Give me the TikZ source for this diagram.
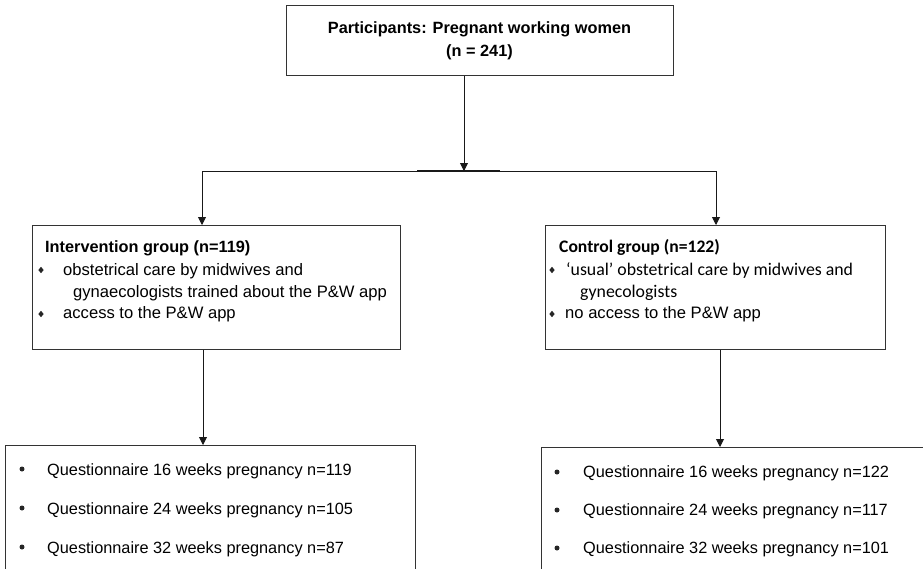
\documentclass[tikz,border=0pt]{standalone}
\usepackage{fontspec}
\setmainfont{Liberation Sans}
\newfontfamily\calfont{Carlito}
\usetikzlibrary{arrows.meta,shapes.geometric}
\begin{document}
\begin{tikzpicture}[x=1pt,y=-1pt,
  box/.style={draw=black!80, line width=0.9pt, rectangle, inner sep=0pt, anchor=north west},
  txt/.style={anchor=base west, inner sep=0pt, font=\fontsize{16.3}{20}\selectfont},
  mtxt/.style={anchor=base west, inner sep=0pt, font=\fontsize{16.6}{20}\selectfont},
  btxt/.style={txt, font=\fontsize{16.3}{20}\selectfont\bfseries},
  ctxt/.style={anchor=base, inner sep=0pt, font=\fontsize{16.3}{20}\selectfont\bfseries},
  ctext/.style={txt, font=\fontsize{17.8}{20}\selectfont\calfont},
  cbtext/.style={txt, font=\fontsize{17.6}{20}\selectfont\calfont\bfseries},
  dia/.style={diamond, fill=black!85, inner sep=0pt, minimum width=5.5pt, minimum height=6.5pt},
  dot/.style={circle, fill=black!85, inner sep=0pt, minimum size=5pt},
  arr/.style={draw=black!90, line width=0.9pt, -{Triangle[length=8pt,width=8pt]}},
  conn/.style={draw=black!90, line width=0.9pt},
]
\clip (0,0) rectangle (923,568);
\fill[white] (0,0) rectangle (923,568);

% boxes
\node[box, minimum width=387pt, minimum height=70pt] (top) at (286,5) {};
\node[box, minimum width=368pt, minimum height=124pt] (int) at (32,225) {};
\node[box, minimum width=340pt, minimum height=124pt] (ctl) at (545,225) {};
\node[box, minimum width=410pt, minimum height=160pt] (qint) at (5,445) {};
\node[box, minimum width=420pt, minimum height=160pt] (qctl) at (541,447) {};

% top text
\node[ctxt] (t1) at (479.5,33) {Participants: Pregnant working women};
\node[ctxt] (t2) at (479.5,56) {(n = 241)};

% intervention text
\node[btxt] (ih) at (45,252) {Intervention group (n=119)};
\node[dia] (ib1) at (41,270) {};
\node[mtxt] (i1) at (63,275) {obstetrical care by midwives and};
\node[mtxt] (i2) at (73,297) {gynaecologists trained about the P\&W app};
\node[dia] (ib2) at (41,314) {};
\node[mtxt] (i3) at (63,318) {access to the P\&W app};

% control text
\node[cbtext] (ch) at (559,252) {Control group (n=122)};
\node[dia] (cb1) at (552,270) {};
\node[ctext] (c1) at (566,275) {‘usual’ obstetrical care by midwives and};
\node[ctext] (c2) at (580,297) {gynecologists};
\node[dia] (cb2) at (552,314) {};
\node[mtxt] (c3) at (565,318) {no access to the P\&W app};

% questionnaire intervention
\node[dot] (qb1) at (22,469) {};
\node[txt] (q1) at (47,475) {Questionnaire 16 weeks pregnancy n=119};
\node[dot] (qb2) at (22,508) {};
\node[txt] (q2) at (47,514) {Questionnaire 24 weeks pregnancy n=105};
\node[dot] (qb3) at (22,547) {};
\node[txt] (q3) at (47,553) {Questionnaire 32 weeks pregnancy n=87};

% questionnaire control
\node[dot] (rb1) at (557,472) {};
\node[txt] (r1) at (583,477) {Questionnaire 16 weeks pregnancy n=122};
\node[dot] (rb2) at (557,510) {};
\node[txt] (r2) at (583,515) {Questionnaire 24 weeks pregnancy n=117};
\node[dot] (rb3) at (557,548) {};
\node[txt] (r3) at (583,553) {Questionnaire 32 weeks pregnancy n=101};

% connectors
\coordinate (split) at (464,171);
\coordinate (sl) at (202,171);
\coordinate (sr) at (716,171);
\coordinate (dl) at (203,349);
\coordinate (dr) at (720,349);
\coordinate (ta) at (417,171);
\coordinate (tb) at (500,171);
\draw[arr] (split |- top.south) -- (split);
\draw[conn] (sl) -- (sr);
\draw[conn, line width=1.5pt] (ta) -- (tb);
\draw[arr] (sl) -- (sl |- int.north);
\draw[arr] (sr) -- (sr |- ctl.north);
\draw[arr] (dl |- int.south) -- (dl |- qint.north);
\draw[arr] (dr |- ctl.south) -- (dr |- qctl.north);
\end{tikzpicture}
\end{document}
